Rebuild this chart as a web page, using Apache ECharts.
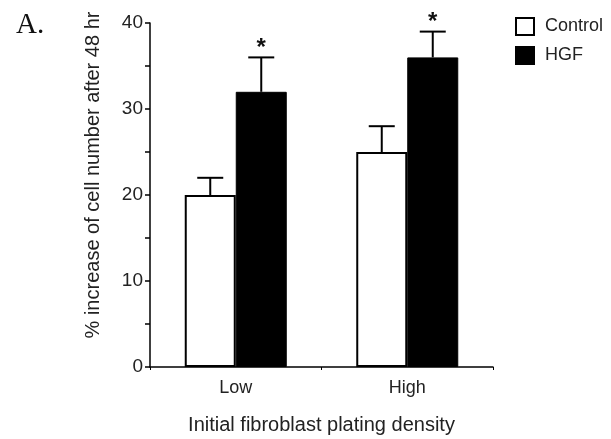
<!DOCTYPE html>
<html>
<head>
<meta charset="utf-8">
<script src="https://cdn.jsdelivr.net/npm/echarts@6/dist/echarts.min.js"></script>
<style>
  html, body { margin: 0; padding: 0; background: #fff; }
  #chart { width: 611px; height: 439px; }
</style>
</head>
<body>
<div id="chart"></div>
<script>
// values
const categories = ["Low", "High"];
const controlMean = [20, 25];
const controlErr = [2, 3];
const hgfMean = [32, 36];
const hgfErr = [4, 3];
const hgfSig = ["*", "*"];
const yTicks = [0, 10, 20, 30, 40];

const chart = echarts.init(document.getElementById("chart"));
const FONT = "Liberation Sans, Arial, sans-serif";

// error bar (upwards only) + optional asterisk, drawn through the axis scales
function errorBars(barOffset, sigs) {
  return function (params, api) {
    const cat = api.value(0);
    const mean = api.value(1);
    const err = api.value(2);
    const base = api.coord([cat, mean]);
    const top = api.coord([cat, mean + err]);
    const x = base[0] + barOffset;
    const children = [
      { type: "line", shape: { x1: x, y1: base[1], x2: x, y2: top[1] }, style: { stroke: "#000", lineWidth: 2 } },
      { type: "line", shape: { x1: x - 13, y1: top[1], x2: x + 13, y2: top[1] }, style: { stroke: "#000", lineWidth: 2 } },
    ];
    if (sigs && sigs[params.dataIndex]) {
      children.push({
        type: "text",
        style: { x: x, y: top[1] - 21, text: sigs[params.dataIndex], fill: "#111", font: "bold 24px " + FONT, align: "center", verticalAlign: "top" },
      });
    }
    return { type: "group", children: children };
  };
}

const option = {
  backgroundColor: "#fff",
  animation: false,
  grid: { left: 150, right: 118, top: 23, bottom: 72, outerBoundsMode: "none" },
  title: {
    text: "A.",
    left: 11,
    top: 6,
    textStyle: { fontFamily: "Liberation Serif, Times New Roman, serif", fontSize: 29, fontWeight: "normal", color: "#111" },
  },
  graphic: [
    {
      type: "text",
      x: 93,
      y: 175,
      rotation: Math.PI / 2,
      style: {
        text: "% increase of cell number after 48 hr",
        font: "20px " + FONT,
        fill: "#222",
        align: "center",
        verticalAlign: "middle",
      },
    },
  ],
  legend: {
    orient: "vertical",
    left: 510,
    top: 12,
    itemWidth: 18,
    itemHeight: 17,
    itemGap: 10,
    icon: "rect",
    textStyle: { fontFamily: FONT, fontSize: 18, color: "#222", padding: [0, 0, 0, 6] },
    data: ["Control", "HGF"],
  },
  xAxis: {
    type: "category",
    data: categories,
    name: "Initial fibroblast plating density",
    nameLocation: "middle",
    nameGap: 48,
    nameTextStyle: { fontFamily: FONT, fontSize: 20, color: "#222" },
    axisLine: { lineStyle: { color: "#000", width: 1.5 } },
    axisTick: { show: true, length: 3, lineStyle: { color: "#000" } },
    axisLabel: { fontFamily: FONT, fontSize: 18, color: "#222", margin: 12 },
  },
  yAxis: {
    type: "value",
    min: yTicks[0],
    max: yTicks[yTicks.length - 1],
    interval: 10,
    axisLine: { show: true, lineStyle: { color: "#000", width: 1.5 } },
    axisTick: { show: true, length: 5, lineStyle: { color: "#000", width: 1.5 } },
    minorTick: { show: true, splitNumber: 2, length: 5, lineStyle: { color: "#000", width: 1.5 } },
    splitLine: { show: false },
    axisLabel: { fontFamily: FONT, fontSize: 19, color: "#222", margin: 7 },
  },
  series: [
    {
      name: "Control",
      type: "bar",
      data: controlMean,
      barWidth: 51,
      barGap: "0%",
      itemStyle: { color: "#fff", borderColor: "#000", borderWidth: 2 },
      z: 2,
    },
    {
      name: "HGF",
      type: "bar",
      data: hgfMean,
      barWidth: 51,
      itemStyle: { color: "#000", borderColor: "#000", borderWidth: 1 },
      z: 2,
    },
    {
      type: "custom",
      name: "ctrlErr",
      data: categories.map((c, i) => [i, controlMean[i], controlErr[i]]),
      renderItem: errorBars(-25.5, null),
      z: 1,
    },
    {
      type: "custom",
      name: "hgfErr",
      data: categories.map((c, i) => [i, hgfMean[i], hgfErr[i]]),
      renderItem: errorBars(25.5, hgfSig),
      z: 1,
    },
  ],
};

chart.setOption(option);
</script>
</body>
</html>
